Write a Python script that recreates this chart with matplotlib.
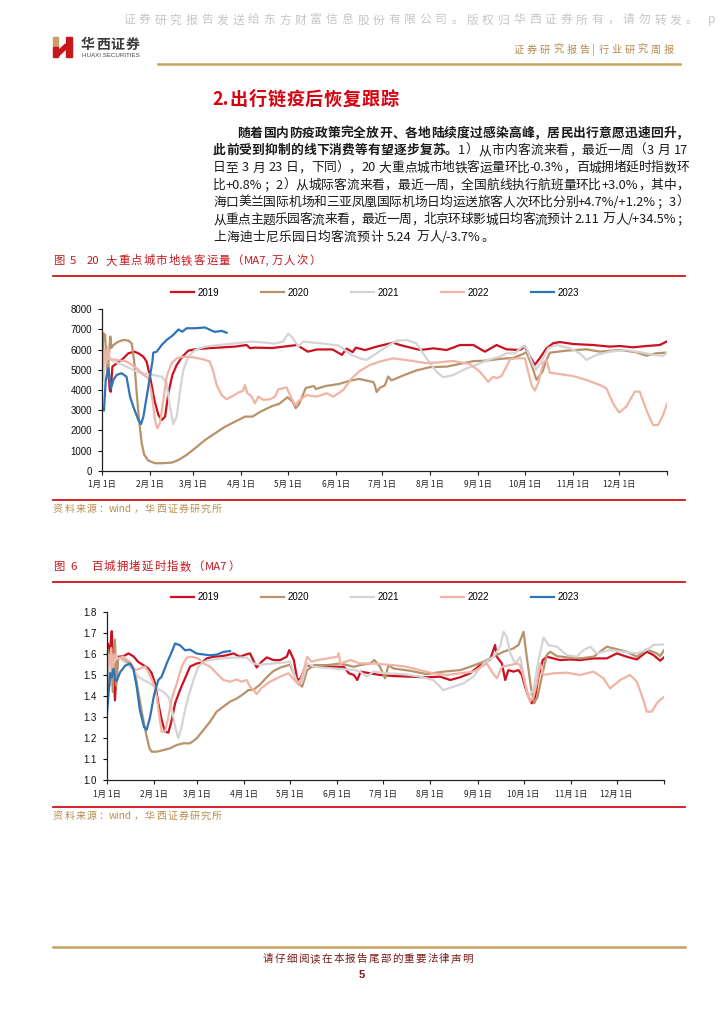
import re
import matplotlib.pyplot as plt
from matplotlib.patches import Rectangle, Polygon
from matplotlib.lines import Line2D

plt.rcParams["font.family"] = ["Noto Sans CJK SC", "DejaVu Sans"]

W, H = 724, 1024

# ---- 数据 ----
years = ["2019", "2020", "2021", "2022", "2023"]
colors = ["#cc1020", "#b8926a", "#d4d4d4", "#f0b4a4", "#2f74b8"]

month_days = [0, 31, 59, 90, 120, 151, 181, 212, 243, 273, 304, 334]
month_labels = ["%d月 1日" % m for m in range(1, 13)]

# 图5 地铁客运量（万人次），横轴为一年中的第几天
subway_2019_day = [0, 1, 2.6, 3.9, 5.2, 5.8, 6.9, 9.7, 14, 17.2, 21, 23.7, 26.9, 29, 31.2, 34, 36.6, 38.7, 40.9, 43,
                   45.6, 48.4, 52, 55.9, 60.2, 68.8, 77.4, 86, 93.5, 95.7, 99, 110, 126, 133, 139, 149, 155, 158, 162, 164,
                   170, 177.4, 188.1, 192.5, 205.4, 214, 222.6, 231.2, 239.8, 247.3, 254.8, 261.2, 269.8, 273.1, 276.3,
                   279.5, 282.7, 287, 291.3, 295.6, 304.2, 317.1, 327.9, 334.3, 342.9, 351.5, 360.1, 364.4]
subway_2019 = [5070, 5650, 5900, 5490, 4000, 3910, 5160, 5320, 5570, 5820, 5900, 5820, 5650, 5400, 4660, 3500, 2760, 2510,
               2680, 3840, 4740, 5240, 5650, 5950, 6020, 6070, 6110, 6150, 6230, 6070, 6100, 6080, 6230, 5900, 6010, 6010,
               5740, 6050, 5880, 6100, 5980, 6150, 6346, 6230, 5983, 6065, 5983, 6230, 6230, 5900, 6230, 6016, 5983, 6150,
               5659, 5246, 5576, 6065, 6313, 6379, 6280, 6230, 6150, 6180, 6115, 6180, 6230, 6395]

subway_2020_day = [0, 1.1, 2.2, 2.8, 3.9, 4.7, 5.6, 6.2, 7.5, 10.8, 14, 17.2, 19.4, 21.1, 22.6, 24.1, 25.8, 27.5, 30.1,
                   34.4, 38.7, 45.2, 49.5, 54.8, 60.2, 66.7, 73.1, 79.6, 86, 92.5, 97.3, 102.6, 110.2, 114.5, 119.9, 123.1,
                   125.2, 127.4, 131.7, 137, 138.2, 144.6, 153.2, 159.7, 166.1, 175.2, 176.3, 177.4, 179.5, 182.7, 184.9,
                   187, 194.5, 203.1, 211.7, 222.6, 231.2, 239.8, 248.4, 257, 265.6, 272, 274.1, 277.4, 280.6, 284.5, 287,
                   289.2, 299.9, 312.8, 321.4, 334.3, 345, 351.5, 357.9, 364.4]
subway_2020 = [4830, 6810, 6730, 5820, 4580, 5820, 6650, 6080, 6230, 6400, 6480, 6450, 6310, 5320, 3840, 2510, 1360, 780,
               500, 370, 370, 400, 530, 780, 1110, 1520, 1850, 2180, 2430, 2680, 2680, 2930, 3210, 3310, 3640, 3430, 3100,
               3300, 4100, 4200, 4050, 4200, 4300, 4450, 4550, 4395, 4230, 3900, 4110, 4230, 4670, 4475, 4720, 4970, 5130,
               5160, 5295, 5430, 5460, 5540, 5590, 5790, 5870, 5240, 4500, 4910, 5490, 5850, 5950, 6016, 5900, 5983, 5870,
               5700, 5820, 5850]

subway_2021_day = [0, 1, 2, 4, 6, 10, 15, 20, 25, 30, 35, 38.7, 41.9, 44, 46.2, 48.4, 50.5, 52.7, 55.9, 60.2, 66.7, 75.3,
                   86, 96.8, 105, 112, 117, 120.4, 123, 126.9, 130, 143, 153, 161, 166.6, 170.9, 177.4, 183.8, 190.3,
                   196.7, 203.1, 209.6, 216, 220.3, 226.8, 235.4, 244, 250.4, 256.9, 261.2, 266.5, 271.9, 274.1, 277.4,
                   280.1, 283.8, 288.1, 293.5, 302.1, 308.5, 312.8, 319.3, 327.9, 338.6, 349.4, 355.8, 362.3, 364.4]
subway_2021 = [4600, 4500, 5300, 5600, 5500, 5350, 5200, 5000, 4850, 4780, 4720, 4660, 4330, 3180, 2310, 2680, 3920, 4990,
               5650, 5980, 6150, 6230, 6310, 6400, 6350, 6300, 6400, 6800, 6600, 6150, 6400, 6300, 6200, 5750, 5570, 5490,
               5820, 6150, 6440, 6480, 6310, 5570, 4910, 4630, 4740, 5070, 5320, 5520, 5650, 5820, 5820, 6180, 6070, 5410,
               4990, 5410, 6070, 6230, 6070, 5820, 5490, 5740, 5900, 5980, 5850, 5740, 5690, 5820]

subway_2022_day = [0, 1, 2, 3, 4, 5, 6.4, 7.5, 16.1, 22.6, 26.9, 30.1, 32.2, 34.4, 35.9, 37.6, 39.8, 41.9, 45.1, 48.4,
                   52.6, 59.1, 65.6, 69.8, 72, 74.2, 77.4, 80.6, 83.8, 88.1, 91.4, 92.4, 94, 96.7, 98.9, 101, 104.3, 108.6,
                   111.8, 113.9, 119.3, 121.5, 124.7, 127.9, 132.2, 138.7, 145.2, 149.4, 155.9, 161.3, 166.6, 173.1, 179.5,
                   188.1, 198.9, 209.6, 216, 226.8, 237.5, 244, 249.4, 252.6, 254.8, 258, 261.2, 263.4, 267.7, 273.1, 275.2,
                   277.4, 279.5, 281.6, 284.9, 287, 289.2, 295.6, 304.2, 312.8, 321.4, 325.7, 330, 333.9, 338.6, 344, 347.2,
                   351.5, 355.8, 359, 362.3, 364.8]
subway_2022 = [4800, 5300, 6000, 5300, 6150, 5600, 5500, 5520, 5410, 5080, 4750, 4580, 3840, 2510, 2100, 2350, 3510, 4660,
               5330, 5570, 5650, 5620, 5520, 5410, 4910, 4250, 3750, 3540, 3670, 3870, 3970, 4250, 3840, 3670, 3340, 3670,
               3510, 3540, 3670, 4030, 4130, 3750, 3260, 3510, 3750, 3670, 3840, 3670, 4000, 4580, 4950, 5240, 5410, 5570,
               5460, 5330, 5360, 5440, 5290, 4910, 4410, 4660, 4580, 4690, 5160, 5520, 5570, 5570, 4910, 4250, 3970, 4330,
               5330, 5490, 4860, 4790, 4690, 4500, 4250, 4080, 3340, 2880, 3180, 3920, 3920, 3010, 2260, 2260, 2760, 3310]

subway_2023_day = [0, 1.5, 2.6, 4.3, 6, 7.5, 9.7, 12.9, 16, 18.3, 20.4, 23.7, 25.4, 26.9, 30.1, 32.7, 33.3, 35.5, 38.7,
                   41.9, 46.2, 49.5, 52, 54.8, 60.2, 66.7, 70, 73, 77.4, 80.6]
subway_2023 = [3090, 2980, 4500, 5070, 4080, 4500, 4750, 4830, 4660, 3670, 3170, 2510, 2310, 2680, 4170, 5410, 5850, 5900,
               6230, 6480, 6730, 7000, 6890, 7060, 7060, 7100, 6980, 6880, 6930, 6840]

# 图6 百城拥堵延时指数
traffic_2019_day = [0, 0.8, 1.6, 2.4, 3.3, 4.2, 5.4, 6.3, 7.6, 10.9, 14.2, 17.5, 20.7, 24, 27.3, 29.5, 31.7, 33.8, 36,
                    38.2, 40.4, 42.6, 44.8, 48, 51.3, 54.6, 59, 62.2, 65.5, 69.9, 74.2, 78.6, 83, 87.3, 91.7, 93.9, 98.2,
                    101.5, 104.8, 109.2, 113.6, 117.9, 119.6, 122.6, 124.8, 127, 129.1, 131.3, 135.7, 142.2, 148.8, 155.3,
                    158.6, 161.9, 164.1, 166.3, 172.5, 179, 187.8, 198.7, 209.6, 218.4, 225, 231.5, 238, 244.6, 251.1,
                    254.4, 255.5, 258.8, 261, 263.1, 266.4, 269.7, 271.9, 274, 276.2, 278.4, 280.6, 282.8, 285.6, 288.2,
                    292.6, 296.9, 303.5, 310, 318.8, 327.5, 334.1, 340.6, 347.2, 353.7, 358.1, 362.5, 365]
traffic_2019 = [1.62, 1.65, 1.60, 1.64, 1.71, 1.58, 1.38, 1.50, 1.588, 1.59, 1.604, 1.59, 1.563, 1.548, 1.532, 1.509,
                1.461, 1.366, 1.286, 1.230, 1.226, 1.286, 1.366, 1.429, 1.485, 1.541, 1.556, 1.56, 1.58, 1.588, 1.59,
                1.595, 1.604, 1.588, 1.60, 1.604, 1.537, 1.564, 1.585, 1.572, 1.572, 1.588, 1.62, 1.572, 1.477, 1.485,
                1.524, 1.548, 1.54, 1.54, 1.54, 1.54, 1.509, 1.501, 1.477, 1.517, 1.509, 1.501, 1.496, 1.493, 1.490,
                1.493, 1.477, 1.490, 1.509, 1.548, 1.575, 1.644, 1.588, 1.556, 1.477, 1.524, 1.517, 1.524, 1.501, 1.445,
                1.397, 1.366, 1.397, 1.493, 1.572, 1.588, 1.580, 1.572, 1.575, 1.572, 1.580, 1.580, 1.604, 1.588, 1.575,
                1.612, 1.596, 1.569, 1.585]

traffic_2020_day = [0, 1, 2, 3, 4, 5.4, 6.3, 7.5, 8.7, 13.1, 16.4, 18.6, 20.1, 21.8, 24, 26.2, 28, 29.5, 32.8, 37.1, 41.5,
                    45.9, 50.2, 54.6, 59, 63.3, 67.7, 72, 76.4, 80.8, 85.2, 89.5, 92.8, 96.1, 100.4, 104.8, 109.2, 114,
                    120, 124.8, 128, 131.3, 135.7, 144.5, 153.2, 161.9, 165.9, 172.5, 175.4, 179, 182.3, 184.5, 187.8,
                    198.7, 209.6, 220.5, 231.5, 238, 246.8, 253.3, 259.9, 266.4, 269.7, 273, 275.1, 277.8, 280, 282.2, 285,
                    288.2, 290.4, 294.8, 301.4, 310, 318.8, 327.5, 331.9, 340.6, 347.2, 353.7, 360.3, 362.5, 365.1]
traffic_2020 = [1.42, 1.62, 1.45, 1.60, 1.42, 1.67, 1.45, 1.58, 1.584, 1.563, 1.548, 1.509, 1.445, 1.374, 1.286, 1.207,
                1.151, 1.135, 1.135, 1.143, 1.151, 1.167, 1.175, 1.175, 1.199, 1.238, 1.278, 1.326, 1.35, 1.374, 1.389,
                1.410, 1.429, 1.43, 1.455, 1.49, 1.52, 1.537, 1.55, 1.469, 1.445, 1.524, 1.548, 1.548, 1.556, 1.54, 1.548,
                1.556, 1.572, 1.54, 1.485, 1.548, 1.532, 1.521, 1.505, 1.517, 1.524, 1.54, 1.564, 1.588, 1.612, 1.628,
                1.644, 1.707, 1.588, 1.445, 1.366, 1.397, 1.493, 1.596, 1.612, 1.591, 1.585, 1.580, 1.588, 1.636, 1.628,
                1.612, 1.588, 1.623, 1.604, 1.591, 1.620]

traffic_2021_day = [0, 1, 2, 3, 4, 6, 8.7, 13.1, 17.5, 20.7, 24, 28.4, 32.8, 37.1, 40.4, 42.6, 44.8, 46.9, 49.1, 51.3, 53.5,
                    56.8, 60, 63.3, 67.7, 74.2, 83, 91.7, 96.1, 100, 109, 116, 120, 124.8, 128, 131.3, 135.7, 148.8, 161.9,
                    165.9, 170.3, 174.6, 183.4, 194.3, 205.2, 213.9, 220.5, 227.1, 233.6, 240.2, 246.8, 253.3, 257.7,
                    259.9, 262.1, 264.3, 267.6, 270.8, 274.1, 276.2, 279.5, 282.8, 286.1, 289.3, 294.8, 301.4, 307.9,
                    312.3, 316.7, 321, 329.8, 338.5, 347.2, 353.7, 358.1, 365.1]
traffic_2021 = [1.40, 1.58, 1.50, 1.60, 1.55, 1.58, 1.58, 1.556, 1.524, 1.493, 1.477, 1.461, 1.437, 1.421, 1.397, 1.342,
                1.254, 1.199, 1.254, 1.334, 1.397, 1.477, 1.541, 1.563, 1.572, 1.58, 1.584, 1.584, 1.556, 1.55, 1.556,
                1.56, 1.565, 1.461, 1.47, 1.556, 1.54, 1.532, 1.525, 1.517, 1.493, 1.517, 1.509, 1.505, 1.493, 1.477,
                1.429, 1.445, 1.461, 1.493, 1.556, 1.588, 1.636, 1.707, 1.683, 1.604, 1.556, 1.588, 1.461, 1.397, 1.429,
                1.572, 1.680, 1.644, 1.636, 1.596, 1.588, 1.620, 1.636, 1.604, 1.620, 1.612, 1.604, 1.620, 1.644, 1.647]

traffic_2022_day = [0, 1, 2, 3, 4, 5, 7.6, 10.9, 15.3, 18.6, 21.8, 25.1, 27.3, 30.6, 32.8, 34.5, 36, 38.2, 40.4, 42.6,
                    45.9, 49.1, 52.4, 55.7, 60, 63.3, 67.7, 72, 76.4, 80.8, 85.2, 88.4, 91.7, 93.9, 96.1, 98.2, 101.5, 107,
                    113.6, 119, 122, 126, 129, 131.3, 134, 137.9, 144.5, 151, 152, 153, 159.7, 165.9, 172.5, 179, 187.8,
                    196.5, 205.2, 213.9, 222.6, 231.5, 240.2, 248.9, 252.2, 255.5, 258.8, 264.3, 268.6, 270.8, 273, 275.1,
                    277.3, 279.5, 281.7, 283.9, 286.1, 292.6, 301.4, 310, 318.8, 325.3, 329.7, 336.3, 342.8, 347.2, 351.5,
                    353.7, 357, 360.3, 362.5, 365.1]
traffic_2022 = [1.45, 1.60, 1.55, 1.63, 1.52, 1.60, 1.58, 1.588, 1.563, 1.524, 1.532, 1.541, 1.517, 1.461, 1.397, 1.302,
                1.230, 1.230, 1.302, 1.389, 1.461, 1.541, 1.584, 1.588, 1.58, 1.556, 1.541, 1.509, 1.477, 1.469, 1.48,
                1.469, 1.477, 1.445, 1.429, 1.41, 1.44, 1.469, 1.493, 1.509, 1.485, 1.453, 1.524, 1.588, 1.564, 1.572,
                1.58, 1.588, 1.604, 1.556, 1.572, 1.556, 1.556, 1.553, 1.548, 1.54, 1.524, 1.509, 1.501, 1.509, 1.517,
                1.556, 1.517, 1.485, 1.540, 1.548, 1.556, 1.548, 1.493, 1.429, 1.374, 1.397, 1.461, 1.556, 1.501, 1.509,
                1.512, 1.501, 1.517, 1.485, 1.437, 1.477, 1.501, 1.469, 1.382, 1.326, 1.326, 1.366, 1.382, 1.397]

traffic_2023_day = [0, 1.1, 2.2, 3.3, 4.4, 5.5, 6.6, 8.7, 12, 15.3, 17.5, 19.7, 21.8, 24.5, 26.2, 28.4, 31, 33.8, 36,
                    39.3, 42.6, 44.8, 48, 51.3, 54.6, 59, 62.2, 67.7, 72, 76.4, 80.8]
traffic_2023 = [1.30, 1.40, 1.51, 1.49, 1.53, 1.48, 1.473, 1.513, 1.545, 1.556, 1.529, 1.442, 1.331, 1.252, 1.240, 1.30,
                1.405, 1.477, 1.493, 1.556, 1.611, 1.651, 1.643, 1.619, 1.622, 1.603, 1.60, 1.595, 1.598, 1.611, 1.615]

body_lines = [
    [("随着国内防疫政策完全放开、各地陆续度过感染高峰，居民出行意愿迅速回升，", "bold")],
    [("此前受到抑制的线下消费等有望逐步复苏。", "bold"), ("1）从市内客流来看，最近一周（3 月 17", "normal")],
    [("日至 3 月 23 日，下同），20 大重点城市地铁客运量环比-0.3%，百城拥堵延时指数环", "normal")],
    [("比+0.8%；2）从城际客流来看，最近一周，全国航线执行航班量环比+3.0%，其中，", "normal")],
    [("海口美兰国际机场和三亚凤凰国际机场日均运送旅客人次环比分别+4.7%/+1.2%；3）", "normal")],
    [("从重点主题乐园客流来看，最近一周，北京环球影城日均客流预计 2.11 万人/+34.5%；", "normal")],
    [("上海迪士尼乐园日均客流预计 5.24 万人/-3.7%。", "normal")],
]

fig = plt.figure(figsize=(W / 100, H / 100), dpi=100)
renderer = fig.canvas.get_renderer()


def fx(x):
    return x / W


def fy(y):
    return 1 - y / H


def hline(x0, x1, y, color, lw):
    fig.add_artist(Line2D([fx(x0), fx(x1)], [fy(y), fy(y)], color=color, lw=lw,
                          transform=fig.transFigure))


# 按字排版，可两端对齐
def put_text(x, y, parts, size, color, x1=None, gap=0.0):
    if isinstance(parts, str):
        parts = [(parts, "normal")]
    em = size * 100 / 72
    base = fy(y + 0.38 * em)
    arts, widths = [], []
    for s, wt in parts:
        for u in re.findall(r"[!-~]+| |[^ -~]", s):
            if u == " ":
                arts.append(None)
                widths.append(0.28 * em)
                continue
            t = fig.text(0, base, u, fontsize=size, color=color, fontweight=wt,
                         ha="left", va="baseline")
            arts.append(t)
            if u.isascii():
                widths.append(t.get_window_extent(renderer).width + 0.5)
            else:
                widths.append(em)
    if x1 is not None and len(arts) > 1:
        gap = (x1 - x - sum(widths)) / (len(arts) - 1)
    cx = x
    for t, w in zip(arts, widths):
        if t is not None:
            t.set_x(fx(cx))
        cx += w + gap


# ---- 页眉 ----
put_text(123, 19, "证券研究报告发送给东方财富信息股份有限公司。版权归华西证券所有，请勿转发。 p",
         8.5, "#c6c6c6", x1=716)

gold = "#c9a063"
logo_red = "#c8161d"
fig.add_artist(Rectangle((fx(52.5), fy(47)), 5.5 / W, 10 / H, color=gold, transform=fig.transFigure))
fig.add_artist(Rectangle((fx(52.5), fy(57)), 5.5 / W, 10 / H, color=logo_red, transform=fig.transFigure))
fig.add_artist(Rectangle((fx(65.5), fy(57)), 6 / W, 20 / H, color=logo_red, transform=fig.transFigure))
fig.add_artist(Polygon([(fx(58), fy(51)), (fx(65.5), fy(44)), (fx(65.5), fy(49.5)), (fx(58), fy(56.5))],
                       closed=True, color=logo_red, transform=fig.transFigure))
put_text(81, 43.5, [("华西证券", "bold")], 10, "#3a3a3a", gap=1.0)
fig.text(fx(81.5), fy(55.5), "HUAXI SECURITIES", fontsize=4.4, color="#444444",
         family=["Liberation Sans"], va="center", ha="left")

put_text(514, 49, "证券研究报告|行业研究周报", 7.3, "#b58a4e", x1=674)
hline(158, 680, 63.5, gold, 1.8)

# ---- 正文 ----
put_text(212, 98, [("2.出行链疫后恢复跟踪", "bold")], 13, "#d7000f", gap=0.8)

line_y0, line_dy = 132, 17.3
for i, parts in enumerate(body_lines):
    x0 = 237 if i == 0 else 213
    x1 = None if i == len(body_lines) - 1 else 689
    put_text(x0, line_y0 + i * line_dy, parts, 9.2, "#1a1a1a", x1=x1, gap=0.3)

title_red = "#c8161d"
src_color = "#b98d4f"


def draw_chart(ax, data, ylim, yticks, yfmt, legend_y):
    lines = []
    for (d, v), name, c in zip(data, years, colors):
        ln, = ax.plot(d, v, color=c, lw=1.6, label=name, solid_joinstyle="round")
        lines.append(ln)
    ax.set_xlim(0, 365)
    ax.set_ylim(*ylim)
    ax.set_xticks(month_days + [365])
    ax.set_xticklabels(month_labels + [""], fontsize=6, color="#222222")
    ax.set_yticks(yticks)
    ax.set_yticklabels([yfmt % t for t in yticks], fontsize=7, family=["Liberation Sans"], color="#111111")
    for s in ["top", "right"]:
        ax.spines[s].set_visible(False)
    for s in ["left", "bottom"]:
        ax.spines[s].set_linewidth(0.9)
        ax.spines[s].set_color("#222222")
    ax.tick_params(axis="x", direction="out", length=3, width=0.8, pad=4, colors="#222222")
    ax.tick_params(axis="y", direction="out", length=3, width=0.8, pad=4, colors="#111111")
    ax.patch.set_alpha(0)
    fig.legend(lines, years, loc="center", bbox_to_anchor=(fx(375), fy(legend_y)), ncol=5,
               frameon=False, handlelength=2.4, handletextpad=0.35, columnspacing=4.3,
               prop={"family": "Liberation Sans", "size": 7})


# ---- 图5 ----
put_text(53, 260, "图 5  20 大重点城市地铁客运量（MA7,万人次）", 8.2, title_red, gap=1.2)
hline(53, 685, 276, "#d0121b", 1.3)
ax1 = fig.add_axes([fx(101.7), fy(470.7), (667.3 - 101.7) / W, (470.7 - 309.3) / H])
draw_chart(ax1,
           [(subway_2019_day, subway_2019), (subway_2020_day, subway_2020), (subway_2021_day, subway_2021),
            (subway_2022_day, subway_2022), (subway_2023_day, subway_2023)],
           (0, 8000), list(range(0, 8001, 1000)), "%d", 292.5)
hline(53, 685, 500, "#d0121b", 1.3)
put_text(53, 508, "资料来源：wind，华西证券研究所", 7.2, src_color, gap=1.2)

# ---- 图6 ----
put_text(53, 566, "图 6   百城拥堵延时指数（MA7）", 8.2, title_red, gap=1.2)
hline(53, 685, 582, "#d0121b", 1.3)
ax2 = fig.add_axes([fx(106.7), fy(780), (664 - 106.7) / W, (780 - 612.3) / H])
draw_chart(ax2,
           [(traffic_2019_day, traffic_2019), (traffic_2020_day, traffic_2020), (traffic_2021_day, traffic_2021),
            (traffic_2022_day, traffic_2022), (traffic_2023_day, traffic_2023)],
           (1.0, 1.8), [1.0 + 0.1 * i for i in range(9)], "%.1f", 597)
hline(53, 685, 807, "#d0121b", 1.3)
put_text(53, 815, "资料来源：wind，华西证券研究所", 7.2, src_color, gap=1.2)

# ---- 页脚 ----
hline(53, 685, 947, gold, 1.8)
put_text(263, 958, "请仔细阅读在本报告尾部的重要法律声明", 7.6, "#7a1a1a", x1=473)
fig.text(fx(362), fy(975), "5", fontsize=8, fontweight="bold", color="#7a1a1a",
         family=["Liberation Sans"], ha="center", va="center")

fig.savefig("out.png", dpi=100)
